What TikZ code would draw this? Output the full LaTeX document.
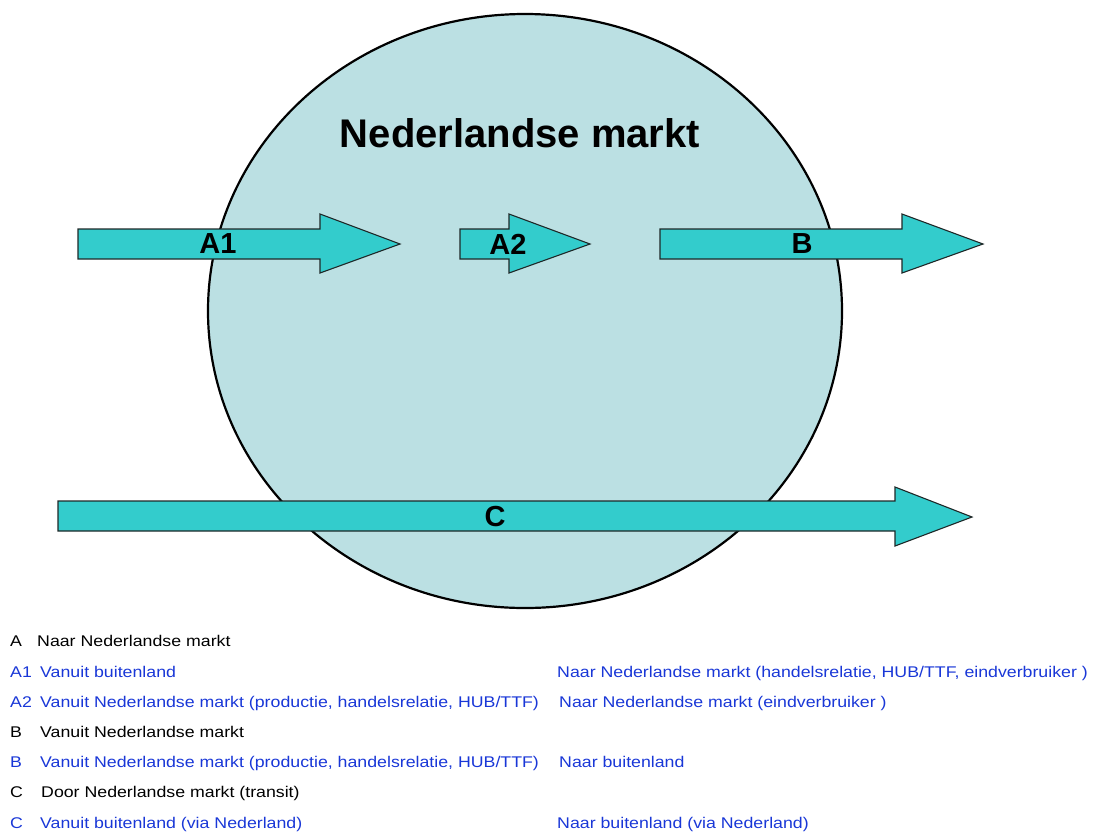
\documentclass[tikz,border=0pt]{standalone}
\usepackage{fontspec}
\usepackage{graphicx}
\setmainfont{Liberation Sans}
\definecolor{circfill}{RGB}{187,224,227}
\definecolor{arrfill}{RGB}{51,204,204}
\definecolor{arredge}{RGB}{30,40,40}
\definecolor{legblue}{RGB}{25,55,215}
\newcommand{\legstretch}[1]{\scalebox{1.145}[1]{#1}}
\begin{document}
\begin{tikzpicture}[x=1pt,y=-1pt,
  flow/.style={fill=arrfill,draw=arredge,line width=1.1pt,line join=miter},
  arrlabel/.style={font=\fontsize{29}{32}\selectfont\bfseries,inner sep=0pt},
  legkey/.style={anchor=base west,inner sep=0pt,font=\fontsize{15.5}{18}\selectfont},
  legtxt/.style={anchor=base west,inner sep=0pt,font=\fontsize{15.5}{18}\selectfont},
  blue/.style={text=legblue}]
\useasboundingbox (0,0) rectangle (1095,831);
% market circle
\draw[fill=circfill,line width=2.2pt] (525,311) ellipse [x radius=317, y radius=297];
\node[font=\fontsize{40}{44}\selectfont\bfseries,inner sep=0pt] (title) at (520,133) {Nederlandse markt};
% arrow A1
\draw[flow] (78,229) -- (320,229) -- (320,214) -- (400,244) -- (320,273) -- (320,259) -- (78,259) -- cycle;
\node[arrlabel] (A1) at (218,244) {A1};
% arrow A2
\draw[flow] (460,229) -- (509,229) -- (509,214) -- (590,244) -- (509,273) -- (509,259) -- (460,259) -- cycle;
\node[arrlabel] (A2) at (508,244) {A2};
% arrow B
\draw[flow] (660,229) -- (902,229) -- (902,214) -- (983,244) -- (902,273) -- (902,259) -- (660,259) -- cycle;
\node[arrlabel] (B) at (802,244) {B};
% arrow C
\draw[flow] (58,501) -- (895,501) -- (895,487) -- (972,517) -- (895,546) -- (895,531) -- (58,531) -- cycle;
\node[arrlabel] (C) at (495,517) {C};
% legend
\node[legkey] (kA) at (10,646) {\legstretch{A}};
\node[legtxt] (tA) at (37,646) {\legstretch{Naar Nederlandse markt}};
\node[legkey,blue] (kA1) at (10,677) {\legstretch{A1}};
\node[legtxt,blue] (tA1) at (40,677) {\legstretch{Vanuit buitenland}};
\node[legtxt,blue] (rA1) at (557,677) {\legstretch{Naar Nederlandse markt (handelsrelatie, HUB/TTF, eindverbruiker )}};
\node[legkey,blue] (kA2) at (10,707) {\legstretch{A2}};
\node[legtxt,blue] (tA2) at (40,707) {\legstretch{Vanuit Nederlandse markt (productie, handelsrelatie, HUB/TTF)}};
\node[legtxt,blue] (rA2) at (559,707) {\legstretch{Naar Nederlandse markt (eindverbruiker )}};
\node[legkey] (kB) at (10,737) {\legstretch{B}};
\node[legtxt] (tB) at (40,737) {\legstretch{Vanuit Nederlandse markt}};
\node[legkey,blue] (kB2) at (10,767) {\legstretch{B}};
\node[legtxt,blue] (tB2) at (40,767) {\legstretch{Vanuit Nederlandse markt (productie, handelsrelatie, HUB/TTF)}};
\node[legtxt,blue] (rB2) at (559,767) {\legstretch{Naar buitenland}};
\node[legkey] (kC) at (10,797) {\legstretch{C}};
\node[legtxt] (tC) at (41,797) {\legstretch{Door Nederlandse markt (transit)}};
\node[legkey,blue] (kC2) at (10,828) {\legstretch{C}};
\node[legtxt,blue] (tC2) at (40,828) {\legstretch{Vanuit buitenland (via Nederland)}};
\node[legtxt,blue] (rC2) at (557,828) {\legstretch{Naar buitenland (via Nederland)}};
\end{tikzpicture}
\end{document}
